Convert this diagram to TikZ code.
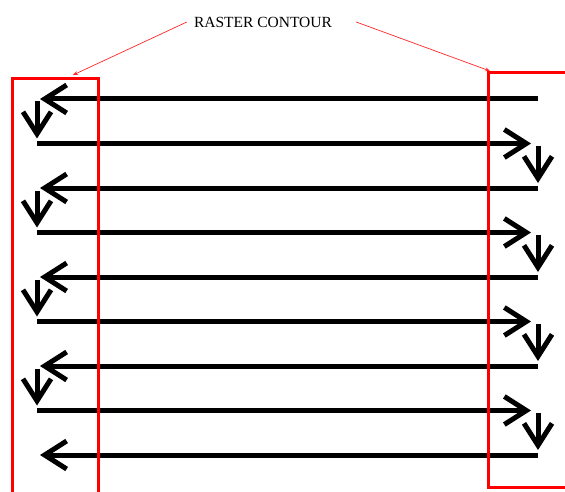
\documentclass[tikz,border=0pt]{standalone}
\usepackage{fontspec}
\setmainfont{Liberation Serif}
\usetikzlibrary{arrows.meta}
\tikzset{
  pass/.style={line width=5pt, black, -{Straight Barb[length=22pt,width=28pt,line width=5pt]}},
  frame/.style={line width=3pt, red},
  pointer/.style={line width=0.7pt, red!85!white, -{Stealth[length=5pt,width=4pt]}}
}
\begin{document}
\begin{tikzpicture}[x=1pt,y=-1pt]
\useasboundingbox (0,0) rectangle (565,492);
\clip (0,0) rectangle (565,492);

% row heights of the raster passes
\foreach \i/\y in {1/99,2/143.5,3/188,4/232.5,5/277,6/321.5,7/366,8/410.5,9/455}{
  \coordinate (L\i) at (37,\y);
  \coordinate (T\i) at (40,\y);
  \coordinate (R\i) at (538,\y);
  \coordinate (E\i) at (531,\y);
}

% leftward passes (odd rows)
\foreach \i in {1,3,5,7,9}{
  \draw[pass] (R\i) -- (T\i);
}
% rightward passes (even rows)
\foreach \i in {2,4,6,8}{
  \draw[pass] (L\i) -- (E\i);
}
% step-down moves at the left edge
\foreach \a/\b in {1/2,3/4,5/6,7/8}{
  \draw[pass] ([yshift=-2.5pt]L\a) -- ([yshift=5pt]L\b);
}
% step-down moves at the right edge
\foreach \a/\b in {2/3,4/5,6/7,8/9}{
  \draw[pass] ([yshift=-2.5pt]R\a) -- ([yshift=5pt]R\b);
}

% contour frames
\draw[frame] (12,500) -- (12,79) -- (98,79) -- (98,500);
\coordinate (lefttop) at (73,75);
\draw[frame] (600,73) -- (488,73) -- (488,487) -- (600,487);
\coordinate (righttop) at (490,71);

% label with its pointers
\node[font=\fontsize{15.5}{16}\selectfont, inner sep=0pt] (label) at (263,22) {RASTER CONTOUR};
\draw[pointer] ([xshift=-7pt]label.west) -- (lefttop);
\draw[pointer] ([xshift=24pt]label.east) -- (righttop);
\end{tikzpicture}
\end{document}
